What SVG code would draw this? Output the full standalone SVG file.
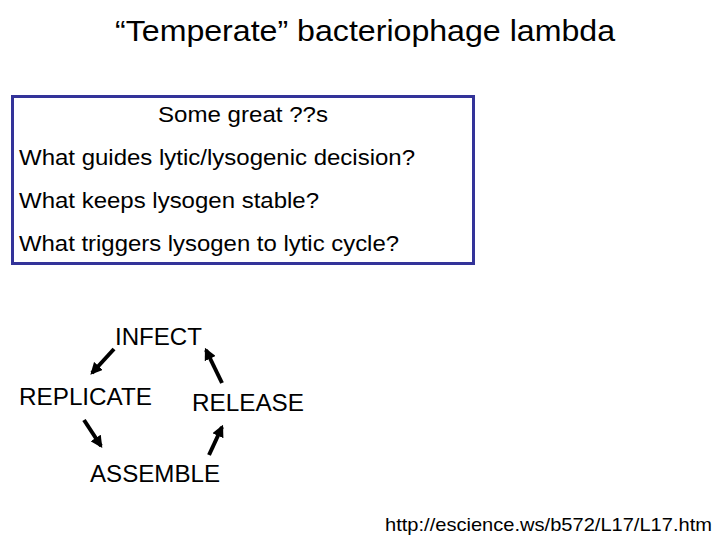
<svg xmlns="http://www.w3.org/2000/svg" width="720" height="540" viewBox="0 0 720 540">
<defs>
<style>
text{font-family:"Liberation Sans",Arial,sans-serif;fill:#000}
.a{stroke:#000;stroke-width:4;fill:none;marker-end:url(#h)}
</style>
<marker id="h" viewBox="0 0 10 10" refX="8" refY="5" markerWidth="3" markerHeight="3" orient="auto" markerUnits="strokeWidth"><path d="M0,0L10,5L0,10z" fill="#000"/></marker>
</defs>
<rect width="720" height="540" fill="#fff"/>
<text x="115" y="41" font-size="30" textLength="500" lengthAdjust="spacingAndGlyphs">“Temperate” bacteriophage lambda</text>
<g id="questions">
<rect x="12.5" y="96.5" width="461" height="167" fill="none" stroke="#333399" stroke-width="3"/>
<text x="158" y="122" font-size="22" textLength="170" lengthAdjust="spacingAndGlyphs">Some great ??s</text>
<text x="19" y="165" font-size="22" textLength="396" lengthAdjust="spacingAndGlyphs">What guides lytic/lysogenic decision?</text>
<text x="19" y="208" font-size="22" textLength="300" lengthAdjust="spacingAndGlyphs">What keeps lysogen stable?</text>
<text x="19" y="251" font-size="22" textLength="380" lengthAdjust="spacingAndGlyphs">What triggers lysogen to lytic cycle?</text>
</g>
<g id="infect"><text x="115" y="345" font-size="23" textLength="87" lengthAdjust="spacingAndGlyphs">INFECT</text></g>
<g id="replicate"><text x="19" y="405" font-size="23" textLength="133" lengthAdjust="spacingAndGlyphs">REPLICATE</text></g>
<g id="release"><text x="192" y="411" font-size="23" textLength="112" lengthAdjust="spacingAndGlyphs">RELEASE</text></g>
<g id="assemble"><text x="90" y="482" font-size="23" textLength="130" lengthAdjust="spacingAndGlyphs">ASSEMBLE</text></g>
<g id="connectors">
<line class="a" x1="114" y1="349" x2="92" y2="373"/>
<line class="a" x1="84" y1="420" x2="101" y2="446"/>
<line class="a" x1="209" y1="455" x2="222" y2="427"/>
<line class="a" x1="222" y1="383" x2="206" y2="350"/>
</g>
<text x="385" y="531" font-size="19" textLength="327" lengthAdjust="spacingAndGlyphs">http://escience.ws/b572/L17/L17.htm</text>
</svg>
